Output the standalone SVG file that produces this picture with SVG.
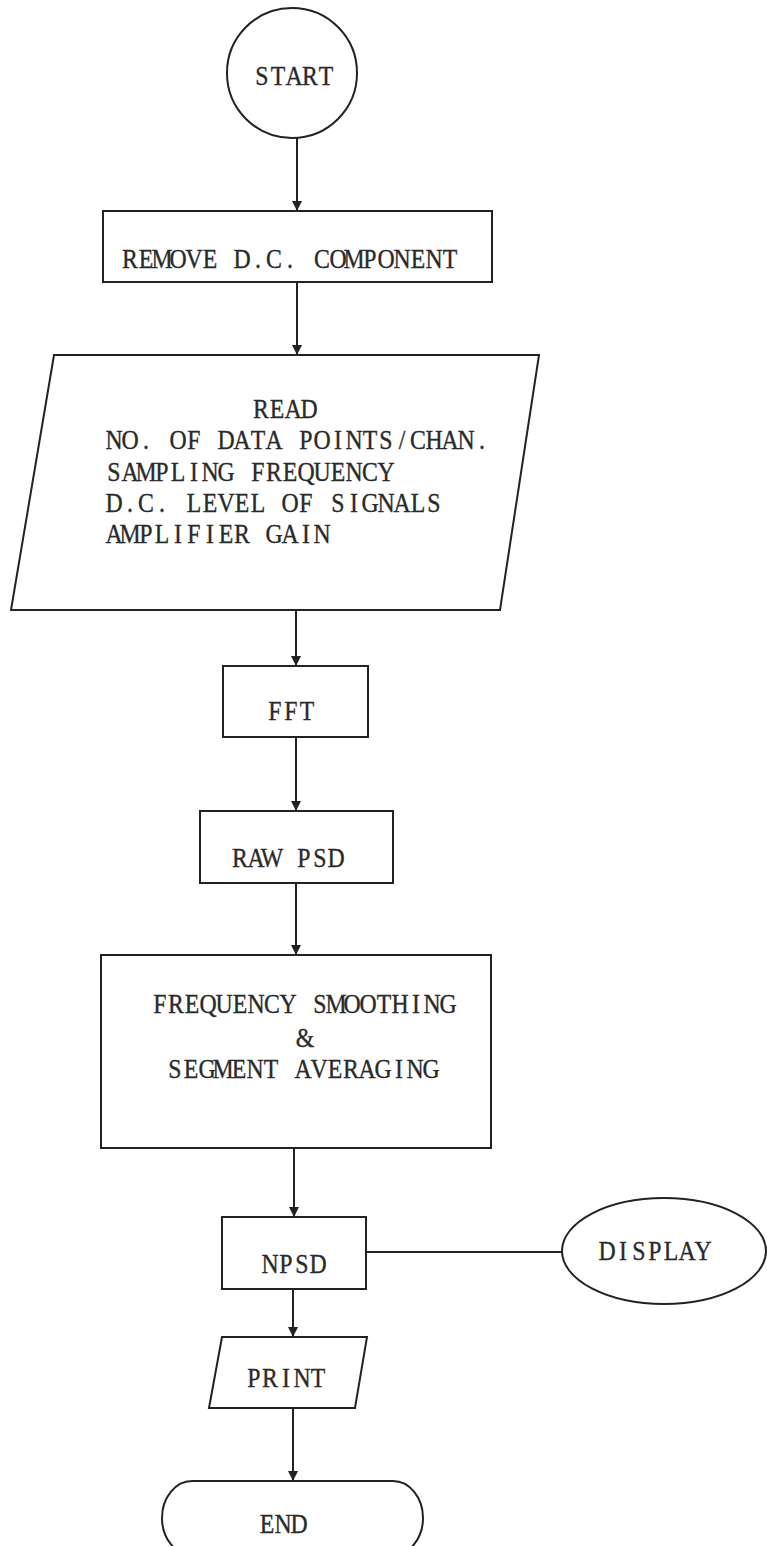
<svg xmlns="http://www.w3.org/2000/svg" width="767" height="1546" viewBox="0 0 767 1546">
<defs>
<marker id="arr" viewBox="0 0 10 10" refX="10" refY="5" markerWidth="10" markerHeight="11" markerUnits="userSpaceOnUse" orient="auto">
<path d="M0,0 L10,5 L0,10 Z" fill="#222"/>
</marker>
<style>
.s{fill:#fff;stroke:#222;stroke-width:2}
.c{fill:none;stroke:#222;stroke-width:2}
.t{font-family:"Liberation Serif","Times New Roman",serif;font-size:28px;fill:#2a2a2a;stroke:#2a2a2a;stroke-width:0.35;text-anchor:middle}
</style>
</defs>
<rect width="767" height="1546" fill="#fff"/>
<g id="connectors">
<line class="c" x1="297" y1="138" x2="297" y2="211" marker-end="url(#arr)"/>
<line class="c" x1="297" y1="282" x2="297" y2="355" marker-end="url(#arr)"/>
<line class="c" x1="296" y1="610" x2="296" y2="666" marker-end="url(#arr)"/>
<line class="c" x1="296" y1="737" x2="296" y2="811" marker-end="url(#arr)"/>
<line class="c" x1="296" y1="883" x2="296" y2="955" marker-end="url(#arr)"/>
<line class="c" x1="294" y1="1148" x2="294" y2="1217" marker-end="url(#arr)"/>
<line class="c" x1="366" y1="1252" x2="562" y2="1252"/>
<line class="c" x1="293" y1="1289" x2="293" y2="1337" marker-end="url(#arr)"/>
<line class="c" x1="293" y1="1408" x2="293" y2="1481" marker-end="url(#arr)"/>
</g>
<g id="start">
<circle class="s" cx="292" cy="73" r="65"/>
<text class="t" transform="translate(254,0) scale(0.85,1)" x="9.41 28.24 47.06 65.88 84.71" y="85">START</text>
</g>
<g id="remove">
<rect class="s" x="103" y="211" width="389" height="71"/>
<text class="t" transform="translate(122,0) scale(0.85,1)" x="9.41 28.24 47.06 65.88 84.71 103.53 122.35 141.18 160 178.82 197.65 216.47 235.29 254.12 272.94 291.76 310.59 329.41 348.24 367.06 385.88" y="268">REMOVE D.C. COMPONENT</text>
</g>
<g id="read">
<polygon class="s" points="54,355 539,355 500,610 11,610"/>
<text class="t" transform="translate(253,0) scale(0.85,1)" x="9.41 28.24 47.06 65.88" y="418">READ</text>
<text class="t" transform="translate(106,0) scale(0.85,1)" x="9.41 28.24 47.06 65.88 84.71 103.53 122.35 141.18 160 178.82 197.65 216.47 235.29 254.12 272.94 291.76 310.59 329.41 348.24 367.06 385.88 404.71 423.53 442.35" y="449">NO. OF DATA POINTS/CHAN.</text>
<text class="t" transform="translate(106,0) scale(0.85,1)" x="9.41 28.24 47.06 65.88 84.71 103.53 122.35 141.18 160 178.82 197.65 216.47 235.29 254.12 272.94 291.76 310.59 329.41" y="481">SAMPLING FREQUENCY</text>
<text class="t" transform="translate(106,0) scale(0.85,1)" x="9.41 28.24 47.06 65.88 84.71 103.53 122.35 141.18 160 178.82 197.65 216.47 235.29 254.12 272.94 291.76 310.59 329.41 348.24 367.06 385.88" y="512">D.C. LEVEL OF SIGNALS</text>
<text class="t" transform="translate(106,0) scale(0.85,1)" x="9.41 28.24 47.06 65.88 84.71 103.53 122.35 141.18 160 178.82 197.65 216.47 235.29 254.12" y="543">AMPLIFIER GAIN</text>
</g>
<g id="fft">
<rect class="s" x="223" y="666" width="145" height="71"/>
<text class="t" transform="translate(267,0) scale(0.85,1)" x="9.41 28.24 47.06" y="720">FFT</text>
</g>
<g id="rawpsd">
<rect class="s" x="200" y="811" width="193" height="72"/>
<text class="t" transform="translate(232,0) scale(0.85,1)" x="9.41 28.24 47.06 65.88 84.71 103.53 122.35" y="867">RAW PSD</text>
</g>
<g id="smoothing">
<rect class="s" x="101" y="955" width="390" height="193"/>
<text class="t" transform="translate(152,0) scale(0.85,1)" x="9.41 28.24 47.06 65.88 84.71 103.53 122.35 141.18 160 178.82 197.65 216.47 235.29 254.12 272.94 291.76 310.59 329.41 348.24" y="1013">FREQUENCY SMOOTHING</text>
<text class="t" transform="translate(297,0) scale(0.85,1)" x="9.41" y="1047">&amp;</text>
<text class="t" transform="translate(167,0) scale(0.85,1)" x="9.41 28.24 47.06 65.88 84.71 103.53 122.35 141.18 160 178.82 197.65 216.47 235.29 254.12 272.94 291.76 310.59" y="1078">SEGMENT AVERAGING</text>
</g>
<g id="npsd">
<rect class="s" x="222" y="1217" width="144" height="72"/>
<text class="t" transform="translate(262,0) scale(0.85,1)" x="9.41 28.24 47.06 65.88" y="1273">NPSD</text>
</g>
<g id="display">
<ellipse class="s" cx="664" cy="1251" rx="102" ry="53"/>
<text class="t" transform="translate(599,0) scale(0.85,1)" x="9.41 28.24 47.06 65.88 84.71 103.53 122.35" y="1260">DISPLAY</text>
</g>
<g id="print">
<polygon class="s" points="222,1337 367,1337 355,1408 209,1408"/>
<text class="t" transform="translate(246,0) scale(0.85,1)" x="9.41 28.24 47.06 65.88 84.71" y="1387">PRINT</text>
</g>
<g id="end">
<rect class="s" x="162" y="1481" width="261" height="74" rx="30" ry="37"/>
<text class="t" transform="translate(259,0) scale(0.85,1)" x="9.41 28.24 47.06" y="1533">END</text>
</g>
</svg>
